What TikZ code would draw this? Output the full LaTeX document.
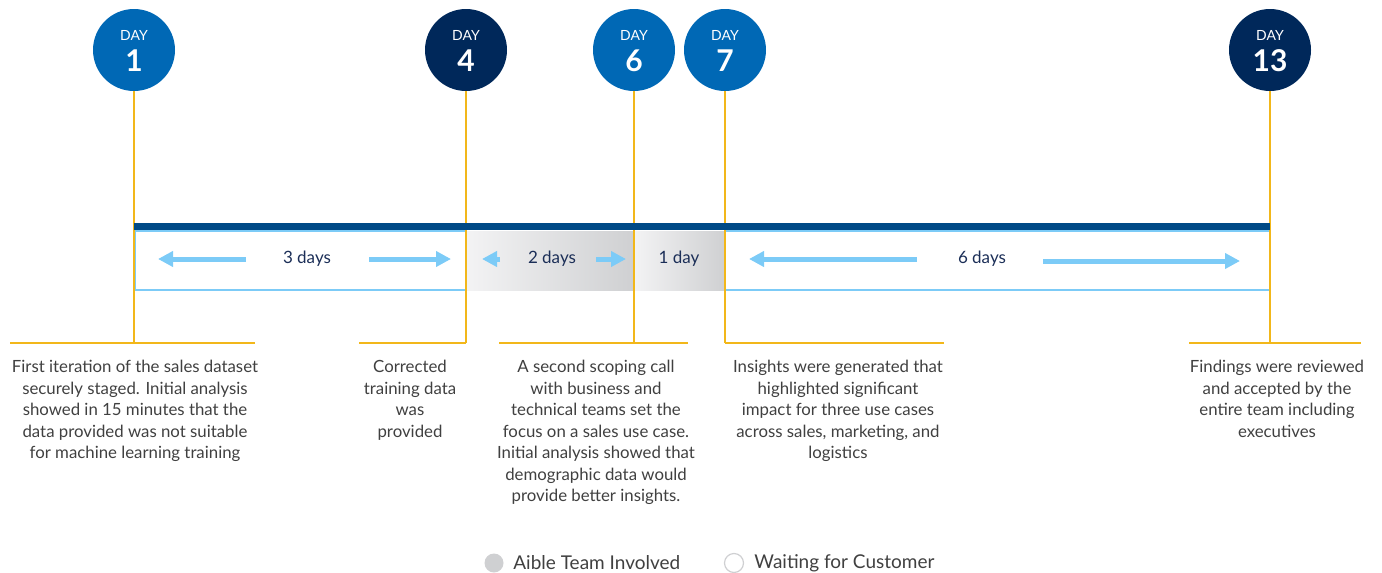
\documentclass[tikz,border=0pt]{standalone}
\usepackage{fontspec}
\setmainfont{Lato}
\usetikzlibrary{arrows.meta,calc}
\definecolor{dayblue}{HTML}{0068B5}
\definecolor{daynavy}{HTML}{00285A}
\definecolor{barblue}{HTML}{004A86}
\definecolor{lightblue}{HTML}{7CCBF7}
\definecolor{stemyellow}{HTML}{F2B71A}
\definecolor{notegray}{HTML}{404040}
\definecolor{spannavy}{HTML}{1B2E57}
\definecolor{shadeL}{HTML}{F3F3F4}
\definecolor{shadeR}{HTML}{CFD0D2}
\tikzset{
	day/.style={circle, fill=#1, minimum size=41pt, inner sep=0pt},
	daytop/.style={text=white, inner sep=0pt, font=\fontsize{7}{7}\selectfont},
	daynum/.style={text=white, inner sep=0pt, font=\fontsize{15}{15}\selectfont\bfseries},
	stem/.style={stemyellow, line width=0.8pt},
	bar/.style={barblue, line width=3.5pt},
	frame/.style={lightblue, line width=0.9pt},
	span/.style={lightblue, line width=2.5pt, -{Triangle[length=7.5pt,width=7.5pt]}},
	spanlabel/.style={text=spannavy, font=\fontsize{8.5}{10}\selectfont},
	note/.style={text=notegray, align=center, anchor=north, inner sep=0pt, font=\fontsize{8.4}{10.75}\selectfont},
	legend/.style={text=notegray, anchor=west, inner sep=0pt, font=\fontsize{9.5}{11}\selectfont}
}

\begin{document}
\begin{tikzpicture}[x=0.5pt, y=-0.5pt]
	\useasboundingbox (0,0) rectangle (1382,573);
	\shade[left color=shadeL, right color=shadeR] (466,231) rectangle (634,290);
	\shade[left color=shadeL, right color=shadeR] (634,231) rectangle (725,290);
	\draw[frame] (135,231) rectangle (466,290);
	\draw[frame] (725,231) rectangle (1270,290);
	\foreach \n/\x/\c in {1/134/dayblue, 4/466/daynavy, 6/634/dayblue, 7/725/dayblue, 13/1270/daynavy} {
		\node[day=\c] (d\n) at (\x,50) {};
		\node[daytop] (dt\n) at ($(d\n)+(0,-15)$) {DAY};
		\node[daynum] (dn\n) at ($(d\n)+(0,11)$) {\n};
		\coordinate (t\n) at (\x,226.5);
		\coordinate (s\n) at (\x,343);
		\draw[stem] (d\n.south) -- (s\n);
	}
	\draw[bar] (t1) -- (t13);
	\draw[stem] (10,343) -- (255,343);
	\draw[stem] (359,343) -- (s4);
	\draw[stem] (499,343) -- (688,343);
	\draw[stem] (s7) -- (944,343);
	\draw[stem] (1189,343) -- (1361,343);
	\node[spanlabel] (w1) at (307,259) {3 days};
	\node[spanlabel] (w4) at (552,259) {2 days};
	\node[spanlabel] (w6) at (679,259) {1 day};
	\node[spanlabel] (w7) at (982,259) {6 days};
	\draw[span] ($(w1)+(-61,0)$) -- ($(w1)+(-149,0)$);
	\draw[span] ($(w1)+(62,0)$) -- ($(w1)+(144,0)$);
	\draw[span] ($(w4)+(-52,0)$) -- ($(w4)+(-70,0)$);
	\draw[span] ($(w4)+(44,0)$) -- ($(w4)+(74,0)$);
	\draw[span] ($(w7)+(-65,0)$) -- ($(w7)+(-233,0)$);
	\draw[span] ($(w7)+(61,2)$) -- ($(w7)+(258,2)$);
	\node[note] (n1) at (135,360) {First iteration of the sales dataset\\securely staged. Initial analysis\\showed in 15 minutes that the\\data provided was not suitable\\for machine learning training};
	\node[note] (n4) at (410,360) {Corrected\\training data\\was\\provided};
	\node[note] (n6) at (596,360) {A second scoping call\\with business and\\technical teams set the\\focus on a sales use case.\\Initial analysis showed that\\demographic data would\\provide better insights.};
	\node[note] (n7) at (838,360) {Insights were generated that\\highlighted significant\\impact for three use cases\\across sales, marketing, and\\logistics};
	\node[note] (n13) at (1277,360) {Findings were reviewed\\and accepted by the\\entire team including\\executives};
	\node[circle, fill=shadeR, minimum size=9.5pt, inner sep=0pt] (lg1) at (494,563) {};
	\node[circle, draw=shadeR, line width=0.6pt, minimum size=9.5pt, inner sep=0pt] (lg2) at (734,563) {};
	\node[legend] (lt1) at (513,563) {Aible Team Involved};
	\node[legend] (lt2) at (754,563) {Waiting for Customer};
\end{tikzpicture}
\end{document}
